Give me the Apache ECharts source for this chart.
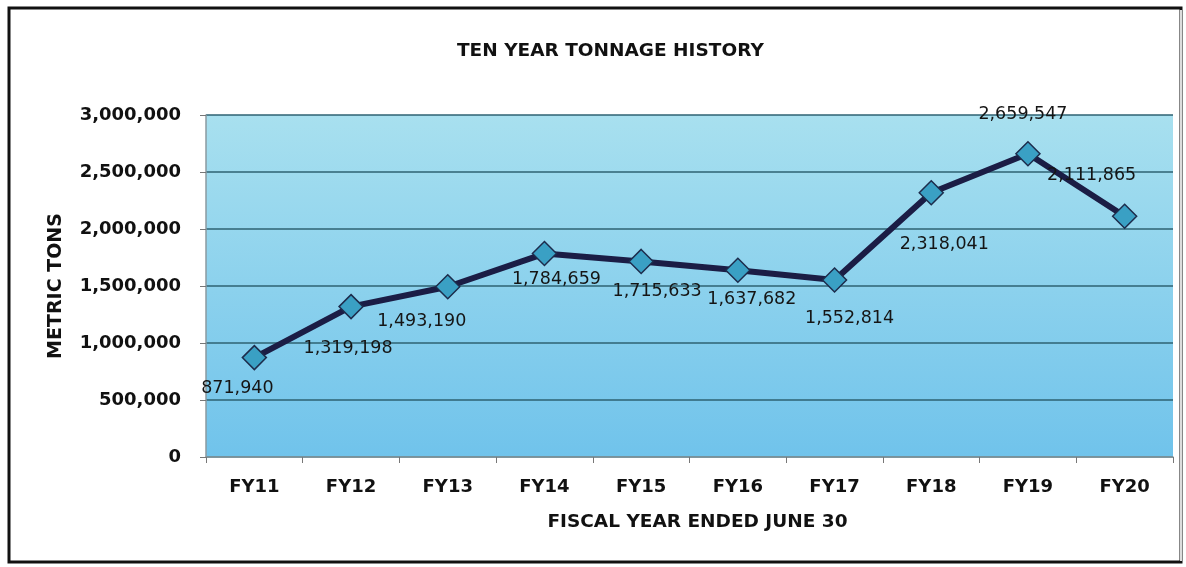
<!DOCTYPE html>
<html>
<head>
<meta charset="utf-8">
<style>
  html, body { margin: 0; padding: 0; background: #ffffff; }
  #chart { width: 1186px; height: 567px; }
</style>
<script src="https://cdn.jsdelivr.net/npm/echarts@6/dist/echarts.min.js"></script>
</head>
<body>
<div id="chart"></div>
<script>
// ---- data ----
const categories = ['FY11', 'FY12', 'FY13', 'FY14', 'FY15', 'FY16', 'FY17', 'FY18', 'FY19', 'FY20'];
const tonnage = [871940, 1319198, 1493190, 1784659, 1715633, 1637682, 1552814, 2318041, 2659547, 2111865];
const yTicks = [0, 500000, 1000000, 1500000, 2000000, 2500000, 3000000];

// ---- layout of data labels (pixel offsets from each marker) ----
const labelOffsets = [[-17, 31], [-3, 42], [-26, 35], [12, 26], [16, 30], [14, 29], [15, 38], [13, 52], [-5, -39], [-33, -41]];

const chart = echarts.init(document.getElementById('chart'));
const fmt = v => v.toString().replace(/\B(?=(\d{3})+(?!\d))/g, ',');

chart.setOption({
  animation: false,
  backgroundColor: '#ffffff',
  title: {
    text: 'TEN YEAR TONNAGE HISTORY',
    left: 452,
    top: 37,
    textStyle: { fontFamily: 'DejaVu Sans', fontWeight: 'bold', fontSize: 18.5, color: '#111' }
  },
  graphic: [
    { type: 'rect', shape: { x: 9, y: 8, width: 1172, height: 554 },
      style: { fill: 'none', stroke: '#111', lineWidth: 3 }, z: 100 },
    { type: 'line', shape: { x1: 1181, y1: 10, x2: 1181, y2: 561 },
      style: { stroke: '#dddddd', lineWidth: 2 }, z: 101 }
  ],
  grid: {
    left: 206, right: 13, top: 115, bottom: 110,
    show: true,
    borderWidth: 0,
    backgroundColor: new echarts.graphic.LinearGradient(0, 0, 0, 1, [
      { offset: 0, color: '#a8e0ef' },
      { offset: 1, color: '#70c3eb' }
    ])
  },
  xAxis: {
    type: 'category',
    data: categories,
    boundaryGap: true,
    name: 'FISCAL YEAR ENDED JUNE 30',
    nameLocation: 'middle',
    nameGap: 56,
    nameTextStyle: { fontFamily: 'DejaVu Sans', fontWeight: 'bold', fontSize: 18.5, color: '#111', padding: [0, 0, 0, 16] },
    axisLine: { show: true, lineStyle: { color: '#8a9aa0', width: 1.5 } },
    axisTick: { show: true, alignWithLabel: false, length: 6, lineStyle: { color: '#777' } },
    axisLabel: { margin: 21, fontFamily: 'DejaVu Sans', fontWeight: 'bold', fontSize: 18, color: '#111' },
    splitLine: { show: false }
  },
  yAxis: {
    type: 'value',
    min: 0,
    max: 3000000,
    interval: 500000,
    name: 'METRIC TONS',
    nameLocation: 'middle',
    nameGap: 140,
    nameRotate: 90,
    nameTextStyle: { fontFamily: 'DejaVu Sans', fontWeight: 'bold', fontSize: 19, color: '#111' },
    axisLine: { show: true, lineStyle: { color: '#8a9aa0', width: 1.5 } },
    axisTick: { show: true, length: 6, lineStyle: { color: '#777' } },
    axisLabel: {
      margin: 25, fontFamily: 'DejaVu Sans', fontWeight: 'bold', fontSize: 18, color: '#111',
      formatter: v => yTicks.includes(v) ? fmt(v) : ''
    },
    splitLine: { show: true, lineStyle: { color: '#2e6272', width: 1.5 } }
  },
  series: [{
    type: 'line',
    data: tonnage.map((v, i) => ({
      value: v,
      label: { offset: labelOffsets[i] }
    })),
    lineStyle: { color: '#1b1d45', width: 6 },
    symbol: 'diamond',
    symbolSize: 24,
    itemStyle: { color: '#3aa0c4', borderColor: '#1d2c4c', borderWidth: 1.5 },
    label: {
      show: true,
      position: 'inside',
      fontFamily: 'DejaVu Sans',
      fontSize: 17.5,
      color: '#151515',
      formatter: p => fmt(p.value)
    },
    z: 5
  }]
});
</script>
</body>
</html>
